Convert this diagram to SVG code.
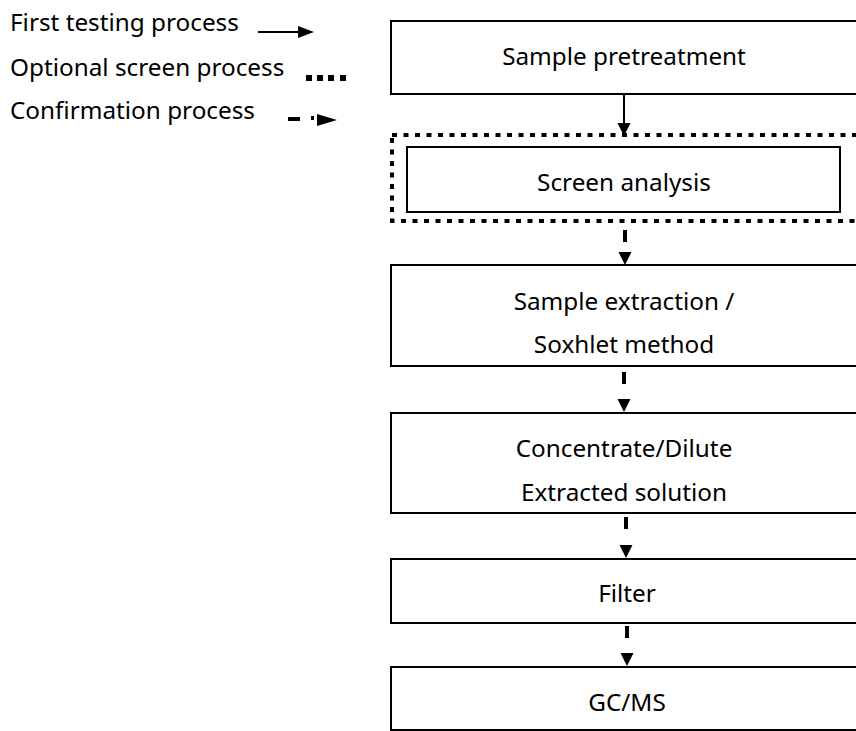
<svg xmlns="http://www.w3.org/2000/svg" width="856" height="731" viewBox="0 0 856 731">
<style>
text{font-family:"Noto Sans","Open Sans","Liberation Sans",sans-serif;font-size:24.3px;fill:#000}
.c{text-anchor:middle}
.box{fill:#fff;stroke:#000;stroke-width:2}
.dot{fill:none;stroke:#000;stroke-width:4;stroke-dasharray:5 6.5}
.solid{fill:none;stroke:#000;stroke-width:2}
.dash{fill:none;stroke:#000;stroke-width:4;stroke-dasharray:12 200}
</style>
<defs>
<marker id="ah" markerUnits="userSpaceOnUse" markerWidth="14" markerHeight="14" refX="13" refY="6.5" orient="auto">
<path d="M0,0 L13,6.5 L0,13 Z" fill="#000"/>
</marker>
</defs>
<rect width="856" height="731" fill="#fff"/>
<g id="legend">
<text x="10" y="31">First testing process</text>
<text x="10" y="76">Optional screen process</text>
<text x="10" y="119">Confirmation process</text>
<line x1="258" y1="32" x2="300" y2="32" stroke="#000" stroke-width="2"/>
<path d="M298,26 L314,32 L298,38 Z" fill="#000"/>
<rect x="306" y="75" width="6" height="6"/>
<rect x="317" y="75" width="6" height="6"/>
<rect x="328" y="75" width="6" height="6"/>
<rect x="340" y="75" width="6" height="6"/>
<rect x="288" y="117" width="12" height="4"/>
<rect x="311" y="116" width="3" height="4"/>
<path d="M317,114 L337,120 L317,126 Z" fill="#000"/>
</g>
<g id="n1">
<rect class="box" x="391" y="21" width="470" height="73"/>
<text class="c" x="624" y="65">Sample pretreatment</text>
</g>
<g id="n2">
<rect class="dot" x="392" y="135" width="470" height="86"/>
<rect class="box" x="407" y="147" width="433" height="65"/>
<text class="c" x="624" y="191">Screen analysis</text>
</g>
<g id="n3">
<rect class="box" x="391" y="265" width="470" height="101"/>
<text class="c" x="624" y="310">Sample extraction /</text>
<text class="c" x="624" y="353">Soxhlet method</text>
</g>
<g id="n4">
<rect class="box" x="391" y="413" width="470" height="100"/>
<text class="c" x="624" y="457">Concentrate/Dilute</text>
<text class="c" x="624" y="501">Extracted solution</text>
</g>
<g id="n5">
<rect class="box" x="391" y="559" width="470" height="64"/>
<text class="c" x="627" y="602">Filter</text>
</g>
<g id="n6">
<rect class="box" x="391" y="667" width="470" height="63"/>
<text class="c" x="627" y="711">GC/MS</text>
</g>
<g id="connectors">
<path class="solid" d="M624,94 L624,136" marker-end="url(#ah)"/>
<path class="dash" d="M625,230 L625,265" marker-end="url(#ah)"/>
<path class="dash" d="M624,372 L624,412" marker-end="url(#ah)"/>
<path class="dash" d="M626,517 L626,558" marker-end="url(#ah)"/>
<path class="dash" d="M627,626 L627,666" marker-end="url(#ah)"/>
</g>
</svg>
